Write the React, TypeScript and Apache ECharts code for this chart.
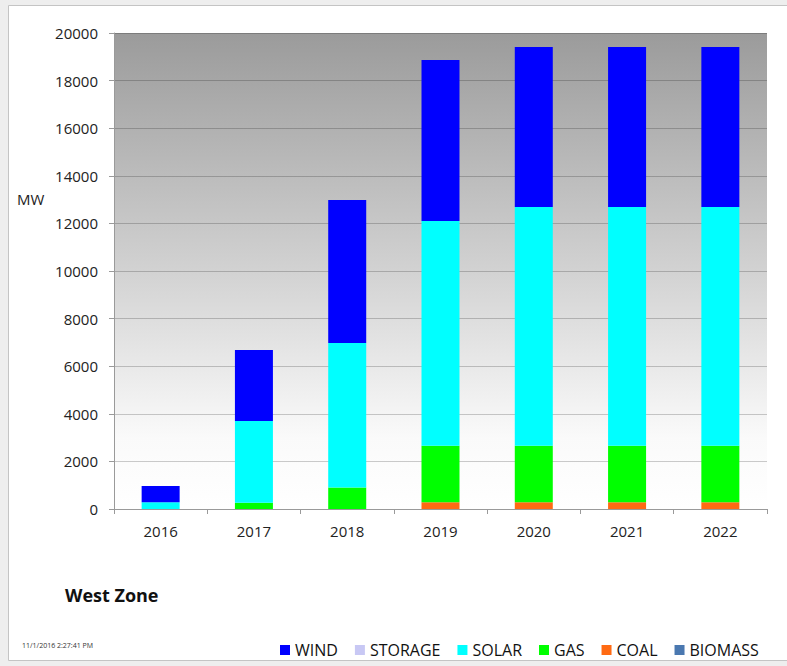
import React, { useEffect, useRef } from "react";
import * as echarts from "echarts";

const years = ["2016", "2017", "2018", "2019", "2020", "2021", "2022"];
const biomass = [0, 0, 0, 0, 0, 0, 0];
const coal = [0, 0, 0, 280, 280, 280, 280];
const gas = [0, 260, 900, 2380, 2380, 2380, 2380];
const solar = [280, 3440, 6080, 9440, 10030, 10030, 10030];
const storage = [0, 0, 0, 0, 0, 0, 0];
const wind = [690, 2980, 6000, 6770, 6720, 6720, 6720];
const yTicks = { min: 0, max: 20000, interval: 2000 };
const legendOrder = ["WIND", "STORAGE", "SOLAR", "GAS", "COAL", "BIOMASS"];

const FONT = "'Open Sans', 'Noto Sans', sans-serif";

export default function App() {
  const ref = useRef<HTMLDivElement>(null);
  useEffect(() => {
    if (!ref.current) return;
    const chart = echarts.init(ref.current, null, { renderer: "svg" });
    const mk = (name: string, data: number[], color: string) => ({
      name,
      type: "bar",
      stack: "total",
      data,
      barWidth: 38,
      itemStyle: { color },
      emphasis: { disabled: true },
    });
    chart.setOption({
      animation: false,
      backgroundColor: "#eeeeee",
      textStyle: { fontFamily: FONT },
      graphic: [
        {
          type: "rect",
          z: -10,
          shape: { x: 8.5, y: 5.5, width: 790, height: 655 },
          style: { fill: "#ffffff", stroke: "#c4c4c4", lineWidth: 1 },
        },
        {
          type: "text",
          left: 17,
          top: 191,
          style: { text: "MW", font: `15px ${FONT}`, fill: "#222" },
        },
        {
          type: "text",
          left: 65,
          top: 586,
          style: { text: "West Zone", font: `bold 18px ${FONT}`, fill: "#111" },
        },
        {
          type: "text",
          left: 22,
          top: 642,
          style: { text: "11/1/2016 2:27:41 PM", font: `7px ${FONT}`, fill: "#333" },
        },
      ],
      legend: {
        data: legendOrder,
        left: 275,
        top: 637,
        itemWidth: 10,
        itemHeight: 10,
        itemGap: 17,
        icon: "rect",
        textStyle: { fontSize: 16, color: "#111", fontFamily: FONT },
      },
      grid: {
        left: 114,
        right: 20,
        top: 33,
        bottom: 157,
        show: true,
        borderWidth: 0,
        backgroundColor: new echarts.graphic.LinearGradient(0, 0, 0, 1, [
          { offset: 0, color: "#9b9b9b" },
          { offset: 0.5, color: "#d2d2d2" },
          { offset: 0.85, color: "#fafafa" },
          { offset: 1, color: "#ffffff" },
        ]),
      },
      xAxis: {
        type: "category",
        data: years,
        axisLine: { show: true, lineStyle: { color: "#9a9a9a" } },
        axisTick: { show: true, length: 5, lineStyle: { color: "#9a9a9a" } },
        axisLabel: { fontSize: 15, color: "#222", margin: 14, fontFamily: FONT },
      },
      yAxis: {
        type: "value",
        min: yTicks.min,
        max: yTicks.max,
        interval: yTicks.interval,
        axisLine: { show: true, lineStyle: { color: "#9a9a9a" } },
        axisTick: { show: true, length: 5, lineStyle: { color: "#9a9a9a" } },
        axisLabel: {
          fontSize: 15,
          color: "#222",
          margin: 16,
          fontFamily: FONT,
          formatter: (v: number) => String(v),
        },
        splitLine: { show: true, lineStyle: { color: "rgba(0,0,0,0.2)", width: 1 } },
      },
      series: [
        mk("BIOMASS", biomass, "#4a78b0"),
        mk("COAL", coal, "#ff6a13"),
        mk("GAS", gas, "#00ff00"),
        mk("SOLAR", solar, "#00ffff"),
        mk("STORAGE", storage, "#c8c8f4"),
        mk("WIND", wind, "#0000ff"),
      ],
    });
    return () => chart.dispose();
  }, []);
  return (
    <div
      ref={ref}
      style={{ position: "absolute", left: 0, top: 0, width: 787, height: 666 }}
    />
  );
}
